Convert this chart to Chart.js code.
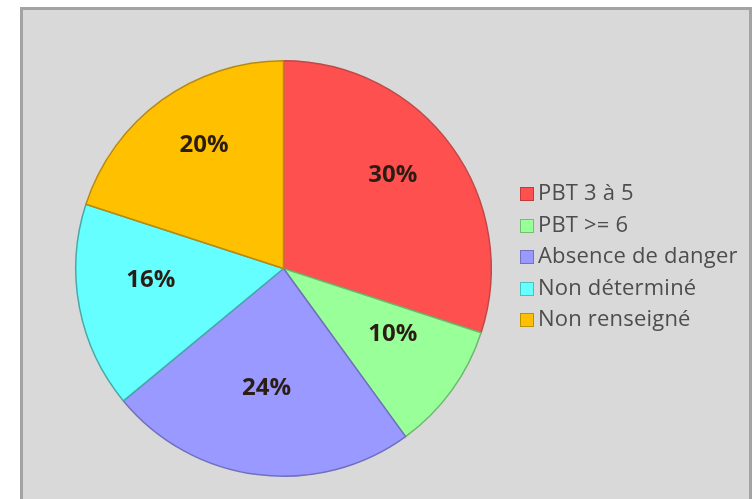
<!DOCTYPE html>
<html lang="fr">
<head>
<meta charset="UTF-8">
<title>Répartition PBT</title>
<script src="https://cdn.jsdelivr.net/npm/chart.js"></script>
<style>
  body { margin: 0; background: #fff; width: 754px; height: 499px; overflow: hidden; position: relative; }
  .panel {
    position: absolute; left: 20px; top: 7px; width: 726px; height: 510px;
    background: #d9d9d9; border: 3px solid #a3a3a3;
  }
  #pie { position: absolute; left: 0; top: 0; }
  .legend {
    position: absolute; left: 520px; top: 176px; margin: 0; padding: 0; list-style: none;
    font-family: "Open Sans", sans-serif; font-size: 22px; letter-spacing: 0.2px; color: #4d4d4d;
  }
  .legend li { height: 31.5px; line-height: 31.5px; white-space: nowrap; }
  .legend span {
    display: inline-block; width: 12px; height: 12px; margin-right: 4px;
    vertical-align: -1px; border: 1px solid rgba(0,0,0,0.25);
  }
</style>
</head>
<body>
<div class="panel"></div>
<canvas id="pie" width="754" height="499"></canvas>
<ul class="legend" id="legend"></ul>

<script>
// data
const categories = ['PBT 3 à 5', 'PBT >= 6', 'Absence de danger', 'Non déterminé', 'Non renseigné'];
const shares = [30, 10, 24, 16, 20];
const fills = ['#ff5050', '#99ff99', '#9999ff', '#66ffff', '#ffc000'];
const edges = ['#c04848', '#6cb86c', '#7070c0', '#4aa8a8', '#b88a10'];

// percentage labels on the slices (sit a bit above the radial point, like excel's best fit)
const sliceLabels = {
  id: 'sliceLabels',
  afterDatasetsDraw(chart) {
    const ctx = chart.ctx;
    const arcs = chart.getDatasetMeta(0).data;
    ctx.save();
    ctx.font = 'bold 24px "Open Sans"';
    ctx.fillStyle = '#2b1d14';
    ctx.textAlign = 'center';
    ctx.textBaseline = 'middle';
    arcs.forEach((arc, i) => {
      const p = arc.getProps(['x', 'y', 'startAngle', 'endAngle', 'outerRadius'], true);
      const mid = (p.startAngle + p.endAngle) / 2;
      const r = p.outerRadius * 0.65;
      ctx.fillText(shares[i] + '%', p.x + Math.cos(mid) * r, p.y + Math.sin(mid) * r - 14);
    });
    ctx.restore();
  }
};

const chart = new Chart(document.getElementById('pie'), {
  type: 'pie',
  data: {
    labels: categories,
    datasets: [{
      data: shares,
      backgroundColor: fills,
      borderColor: edges,
      borderWidth: 1.5
    }]
  },
  options: {
    responsive: false,
    animation: false,
    layout: { padding: { left: 75, top: 60, right: 262, bottom: 22 } },
    plugins: {
      legend: { display: false },
      tooltip: { enabled: false }
    }
  },
  plugins: [sliceLabels]
});

// legend built from the same arrays
const legendBox = document.getElementById('legend');
categories.forEach((name, i) => {
  const li = document.createElement('li');
  const sw = document.createElement('span');
  sw.style.background = fills[i];
  li.appendChild(sw);
  li.appendChild(document.createTextNode(name));
  legendBox.appendChild(li);
});
</script>
</body>
</html>
